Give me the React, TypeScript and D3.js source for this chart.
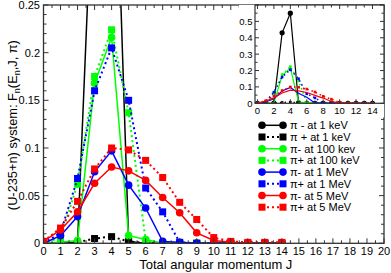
import React, { useRef, useEffect } from 'react';
import * as d3 from 'd3';

// total angular momentum J
const J = [0, 1, 2, 3, 4, 5, 6, 7, 8, 9, 10, 11, 12, 13, 14];

// F_n(E_n, J, pi)
const piMinus1keV = [0, 0, 0.001, 0.43, 0.55, 0.002, 0, 0, 0, 0, 0, 0, 0, 0, 0];
const piPlus1keV = [0, 0, 0.001, 0.005, 0.007, 0.002, 0, 0, 0, 0, 0, 0, 0, 0, 0];
const piMinus100keV = [0, 0.001, 0.003, 0.168, 0.216, 0.008, 0.004, 0, 0, 0, 0, 0, 0, 0, 0];
const piPlus100keV = [0, 0.006, 0.062, 0.175, 0.224, 0.137, 0.003, 0, 0, 0, 0, 0, 0, 0, 0];
const piMinus1MeV = [0, 0.008, 0.028, 0.075, 0.097, 0.061, 0.037, 0.002, 0.001, 0, 0, 0, 0, 0, 0];
const piPlus1MeV = [0, 0.011, 0.068, 0.16, 0.205, 0.15, 0.058, 0.033, 0.001, 0, 0, 0, 0, 0, 0];
const piMinus5MeV = [0.002, 0.014, 0.033, 0.063, 0.08, 0.076, 0.066, 0.048, 0.032, 0.011, 0.003, 0.001, 0, 0, 0];
const piPlus5MeV = [0.002, 0.016, 0.044, 0.078, 0.1, 0.098, 0.087, 0.069, 0.043, 0.025, 0.006, 0.002, 0.001, 0.001, 0.001];

const seriesLabels = [
  'π - at 1 keV',
  'π + at 1 keV',
  'π- at 100 kev',
  'π+ at 100 keV',
  'π- at 1 MeV',
  'π+ at 1 MeV',
  'π- at 5 MeV',
  'π+ at 5 MeV',
];

const xTicks = d3.range(0, 21);
const yTicks = [0, 0.05, 0.1, 0.15, 0.2, 0.25];
const insetXTicks = [0, 2, 4, 6, 8, 10, 12, 14];
const insetYTicks = [0, 0.1, 0.2, 0.3, 0.4, 0.5];

const FONT = '"Liberation Sans", Arial, Helvetica, sans-serif';

const App = () => {
  const svgRef = useRef<SVGSVGElement>(null);

  useEffect(() => {
    const svg = d3.select(svgRef.current);
    svg.selectAll('*').remove();

    const width = 391;
    const height = 273;
    const m = { left: 43.5, right: 384, top: 5, bottom: 243.3 };

    const series = [
      { values: piMinus1keV, color: '#000000', dotted: false },
      { values: piPlus1keV, color: '#000000', dotted: true },
      { values: piMinus100keV, color: '#00ff00', dotted: false },
      { values: piPlus100keV, color: '#00ff00', dotted: true },
      { values: piMinus1MeV, color: '#0000ff', dotted: false },
      { values: piPlus1MeV, color: '#0000ff', dotted: true },
      { values: piMinus5MeV, color: '#ff0000', dotted: false },
      { values: piPlus5MeV, color: '#ff0000', dotted: true },
    ];

    const x = d3.scaleLinear().domain([0, 20]).range([m.left, m.right]);
    const y = d3.scaleLinear().domain([0, 0.25]).range([m.bottom, m.top]);

    svg.append('rect').attr('width', width).attr('height', height).attr('fill', '#fff');

    svg.append('clipPath').attr('id', 'mainClip')
      .append('rect')
      .attr('x', m.left).attr('y', m.top)
      .attr('width', m.right - m.left).attr('height', m.bottom - m.top);

    const plot = svg.append('g').attr('clip-path', 'url(#mainClip)');

    // series
    series.forEach((s) => {
      const pts = J.map((j, i) => [j, s.values[i]] as [number, number]);
      const line = d3.line<[number, number]>().x((d) => x(d[0])).y((d) => y(d[1]));
      plot.append('path')
        .datum(pts)
        .attr('fill', 'none')
        .attr('stroke', s.color)
        .attr('stroke-width', s.dotted ? 2 : 1.5)
        .attr('stroke-dasharray', s.dotted ? '2,3' : null)
        .attr('d', line);
      if (s.dotted) {
        plot.selectAll(null).data(pts).enter().append('rect')
          .attr('x', (d) => x(d[0]) - 3.5).attr('y', (d) => y(d[1]) - 3.5)
          .attr('width', 7).attr('height', 7)
          .attr('fill', s.color);
      } else {
        plot.selectAll(null).data(pts).enter().append('circle')
          .attr('cx', (d) => x(d[0])).attr('cy', (d) => y(d[1]))
          .attr('r', 3.8)
          .attr('fill', s.color);
      }
    });

    // frame
    svg.append('rect')
      .attr('x', m.left).attr('y', m.top)
      .attr('width', m.right - m.left).attr('height', m.bottom - m.top)
      .attr('fill', 'none').attr('stroke', '#333').attr('stroke-width', 1.3);

    const ticks = svg.append('g').attr('stroke', '#333').attr('stroke-width', 1);
    // x ticks: major at integers, minor at halves, top and bottom
    d3.range(0, 20.01, 0.5).forEach((v) => {
      const len = Number.isInteger(v) ? 5 : 3;
      ticks.append('line').attr('x1', x(v)).attr('x2', x(v)).attr('y1', m.bottom).attr('y2', m.bottom - len);
      ticks.append('line').attr('x1', x(v)).attr('x2', x(v)).attr('y1', m.top).attr('y2', m.top + len);
    });
    d3.range(0, 0.2501, 0.01).forEach((v, i) => {
      const len = i % 5 === 0 ? 5 : 3;
      ticks.append('line').attr('x1', m.left).attr('x2', m.left + len).attr('y1', y(v)).attr('y2', y(v));
      ticks.append('line').attr('x1', m.right).attr('x2', m.right - len).attr('y1', y(v)).attr('y2', y(v));
    });

    const labels = svg.append('g').attr('font-family', FONT).attr('fill', '#000');
    xTicks.forEach((v) => {
      labels.append('text').attr('x', x(v)).attr('y', 255).attr('text-anchor', 'middle')
        .attr('font-size', 11).text(v);
    });
    yTicks.forEach((v) => {
      labels.append('text').attr('x', 40).attr('y', y(v) + 4).attr('text-anchor', 'end')
        .attr('font-size', 11).text(v === 0 ? '0' : String(v));
    });

    labels.append('text').attr('x', (m.left + m.right) / 2 + 2).attr('y', 269)
      .attr('text-anchor', 'middle').attr('font-size', 13)
      .text('Total angular momentum J');

    const yl = labels.append('text')
      .attr('transform', `translate(17, ${(m.top + m.bottom) / 2 + 1}) rotate(-90)`)
      .attr('text-anchor', 'middle').attr('font-size', 12.8);
    yl.append('tspan').text('(U-235+n) system: F');
    yl.append('tspan').attr('font-size', 9).attr('dy', 3).text('n');
    yl.append('tspan').attr('dy', -3).text('(E');
    yl.append('tspan').attr('font-size', 9).attr('dy', 3).text('n');
    yl.append('tspan').attr('dy', -3).text(',J, π)');

    // legend
    const lg = svg.append('g');
    series.forEach((s, i) => {
      const ly = 125.3 + i * 11.7;
      lg.append('line').attr('x1', 262).attr('x2', 283).attr('y1', ly).attr('y2', ly)
        .attr('stroke', s.color).attr('stroke-width', s.dotted ? 2 : 1.5)
        .attr('stroke-dasharray', s.dotted ? '2,3' : null);
      [262, 283].forEach((lx) => {
        if (s.dotted) {
          lg.append('rect').attr('x', lx - 3.5).attr('y', ly - 3.5).attr('width', 7).attr('height', 7).attr('fill', s.color);
        } else {
          lg.append('circle').attr('cx', lx).attr('cy', ly).attr('r', 3.8).attr('fill', s.color);
        }
      });
      lg.append('text').attr('x', 290).attr('y', ly + 4).attr('font-family', FONT)
        .attr('font-size', 11).text(seriesLabels[i]);
    });

    // inset
    const ins = { left: 255, right: 384, top: 5, bottom: 103.3 };
    const ix = d3.scaleLinear().domain([-0.3, 15.4]).range([ins.left, ins.right]);
    const iy = d3.scaleLinear().domain([0, 0.6]).range([ins.bottom, ins.top]);

    svg.append('rect').attr('x', ins.left - 16).attr('y', ins.top)
      .attr('width', ins.right - ins.left + 16).attr('height', ins.bottom - ins.top + 14)
      .attr('fill', '#fff');

    svg.append('clipPath').attr('id', 'insetClip')
      .append('rect')
      .attr('x', ins.left).attr('y', ins.top)
      .attr('width', ins.right - ins.left).attr('height', ins.bottom - ins.top);
    const iplot = svg.append('g').attr('clip-path', 'url(#insetClip)');

    series.forEach((s, k) => {
      const pts = J.map((j, i) => [j, s.values[i]] as [number, number]);
      const line = d3.line<[number, number]>().x((d) => ix(d[0])).y((d) => iy(d[1]));
      iplot.append('path')
        .datum(pts)
        .attr('fill', 'none')
        .attr('stroke', s.color)
        .attr('stroke-width', s.dotted ? 1.5 : 1.2)
        .attr('stroke-dasharray', s.dotted ? '1.5,3' : null)
        .attr('d', line);
      if (k === 0) {
        iplot.selectAll(null).data(pts).enter().append('circle')
          .attr('cx', (d) => ix(d[0])).attr('cy', (d) => iy(d[1]))
          .attr('r', 2.6).attr('fill', s.color);
      } else if (s.dotted) {
        iplot.selectAll(null).data(pts).enter().append('rect')
          .attr('x', (d) => ix(d[0]) - 1.3).attr('y', (d) => iy(d[1]) - 1.3)
          .attr('width', 2.6).attr('height', 2.6).attr('fill', s.color);
      }
    });

    svg.append('rect')
      .attr('x', ins.left).attr('y', ins.top)
      .attr('width', ins.right - ins.left).attr('height', ins.bottom - ins.top)
      .attr('fill', 'none').attr('stroke', '#333').attr('stroke-width', 1.2);

    const iticks = svg.append('g').attr('stroke', '#333').attr('stroke-width', 1);
    d3.range(0, 15).forEach((v) => {
      const len = v % 2 === 0 ? 4 : 2.5;
      iticks.append('line').attr('x1', ix(v)).attr('x2', ix(v)).attr('y1', ins.bottom).attr('y2', ins.bottom - len);
      iticks.append('line').attr('x1', ix(v)).attr('x2', ix(v)).attr('y1', ins.top).attr('y2', ins.top + len);
    });
    d3.range(0, 0.601, 0.05).forEach((v, i) => {
      const len = i % 2 === 0 ? 4 : 2.5;
      iticks.append('line').attr('x1', ins.left).attr('x2', ins.left + len).attr('y1', iy(v)).attr('y2', iy(v));
      iticks.append('line').attr('x1', ins.right).attr('x2', ins.right - len).attr('y1', iy(v)).attr('y2', iy(v));
    });

    const ilabels = svg.append('g').attr('font-family', FONT).attr('font-size', 9.5).attr('fill', '#000');
    insetXTicks.forEach((v) => {
      ilabels.append('text').attr('x', ix(v)).attr('y', ins.bottom + 10.5).attr('text-anchor', 'middle').text(v);
    });
    insetYTicks.forEach((v) => {
      ilabels.append('text').attr('x', ins.left - 2.5).attr('y', iy(v) + 3.5).attr('text-anchor', 'end').text(v === 0 ? '0' : String(v));
    });
  }, []);

  return <svg ref={svgRef} width={391} height={273} style={{ position: 'absolute', left: 0, top: 0 }}></svg>;
};

export default App;
